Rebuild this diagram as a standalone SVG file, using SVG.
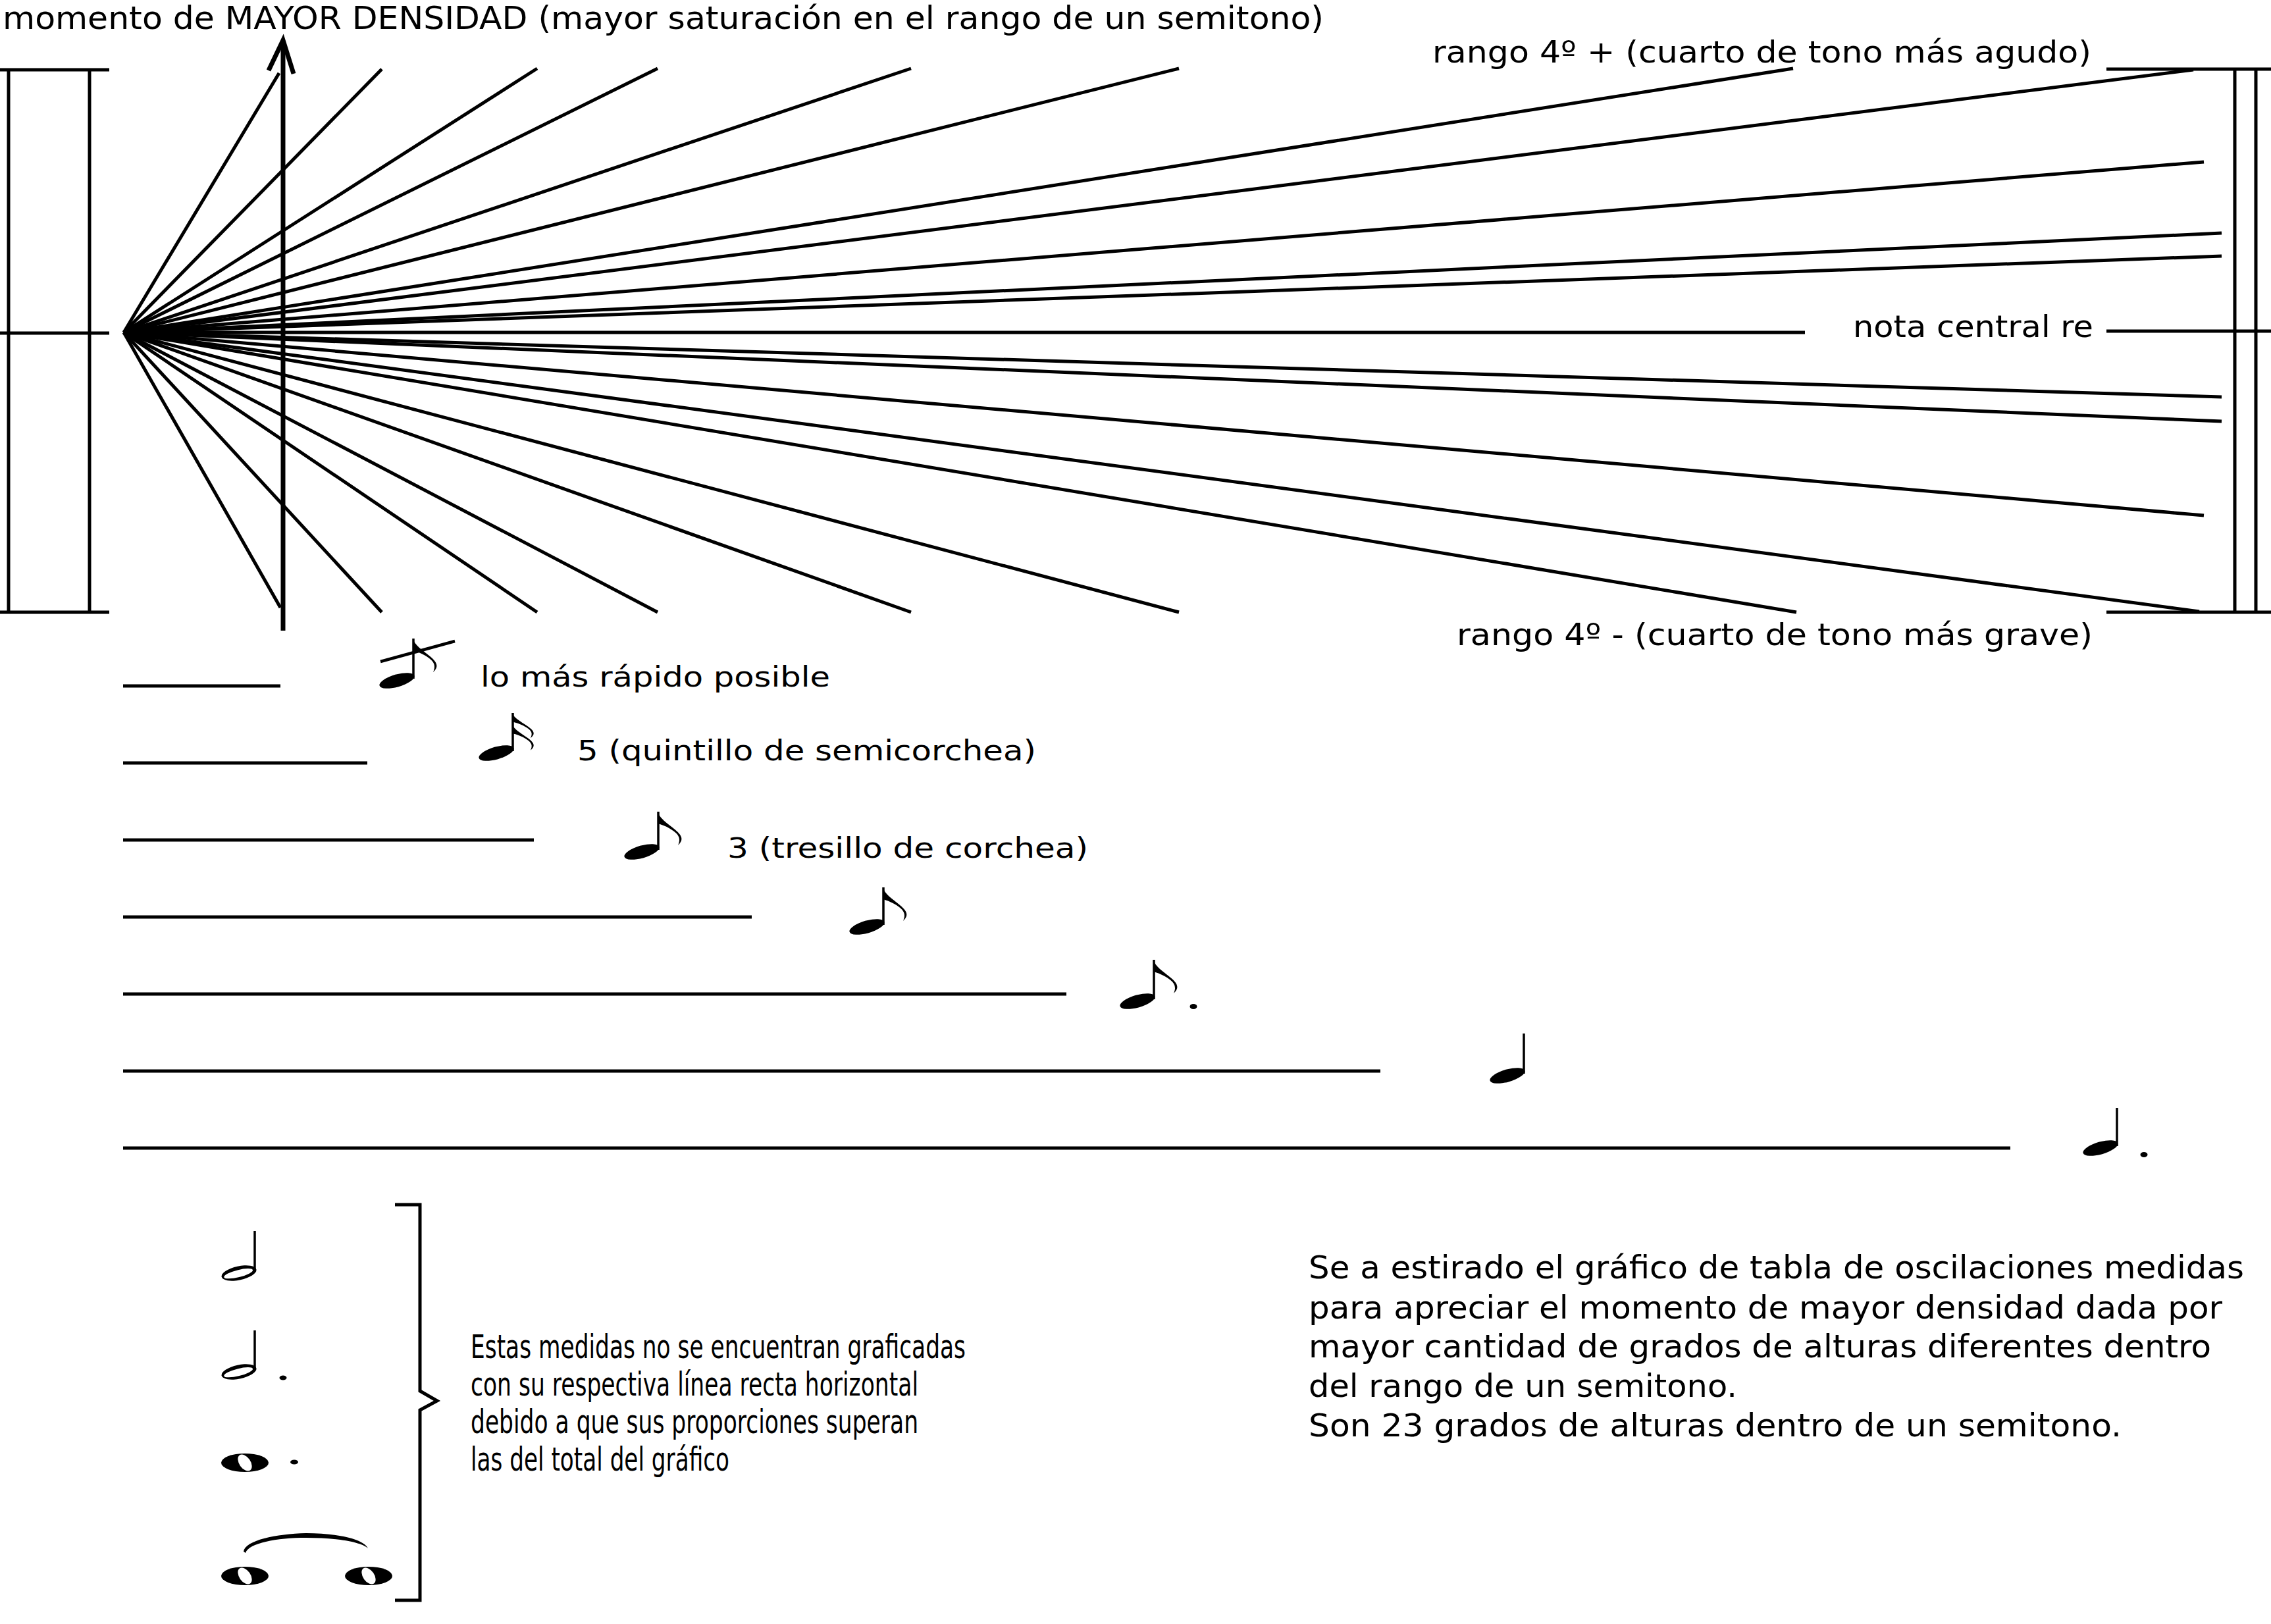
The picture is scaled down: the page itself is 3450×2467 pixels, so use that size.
<svg xmlns="http://www.w3.org/2000/svg" width="3450" height="2467" viewBox="0 0 3450 2467">
<style>
.ln{stroke:#000;stroke-width:5;fill:none}
.fan line{stroke:#000;stroke-width:5}
.dur line{stroke:#000;stroke-width:5}
.stem{stroke:#000;stroke-width:3.5}
.t{font-family:"DejaVu Sans",Verdana,sans-serif;fill:#000}
.ink{fill:#000}
</style>
<defs>
<ellipse id="head" cx="0" cy="0" rx="27.5" ry="9.5" transform="rotate(-16)"/>
<path id="flag" d="M0,0 C3,10 14,17 25,26 C36,35 41,42 31,51 C35,42 33,36 25,30 C16,23 7,20 0,18 Z"/>
<g id="hhead"><ellipse cx="0" cy="0" rx="27" ry="10.5" transform="rotate(-12)" fill="#000"/><ellipse cx="-1" cy="0.5" rx="22.5" ry="5.5" transform="rotate(-14)" fill="#fff"/></g>
<g id="whole"><ellipse cx="0" cy="0" rx="36" ry="14" fill="#000"/><ellipse cx="0" cy="0" rx="14" ry="8.5" transform="rotate(55)" fill="#fff"/></g>
</defs>
<rect width="3450" height="2467" fill="#fff"/>

<g id="left-frame">
<line class="ln" x1="0" y1="106" x2="166" y2="106"/>
<line class="ln" x1="0" y1="506" x2="166" y2="506"/>
<line class="ln" x1="0" y1="930" x2="166" y2="930"/>
<line class="ln" x1="13" y1="106" x2="13" y2="930"/>
<line class="ln" x1="136" y1="106" x2="136" y2="930"/>
</g>

<g id="right-frame">
<line class="ln" x1="3200" y1="105" x2="3450" y2="105"/>
<line class="ln" x1="3200" y1="503" x2="3450" y2="503"/>
<line class="ln" x1="3200" y1="930" x2="3450" y2="930"/>
<line class="ln" x1="3395" y1="105" x2="3395" y2="930"/>
<line class="ln" x1="3427" y1="105" x2="3427" y2="930"/>
</g>

<g id="connectors">
<g class="fan">
<line x1="188" y1="505" x2="424" y2="111"/>
<line x1="188" y1="505" x2="580" y2="105"/>
<line x1="188" y1="505" x2="816" y2="104"/>
<line x1="188" y1="505" x2="999" y2="104"/>
<line x1="188" y1="505" x2="1384" y2="104"/>
<line x1="188" y1="505" x2="1791" y2="104"/>
<line x1="188" y1="505" x2="2724" y2="104"/>
<line x1="188" y1="505" x2="3332" y2="106"/>
<line x1="188" y1="505" x2="3348" y2="246"/>
<line x1="188" y1="505" x2="3375" y2="354"/>
<line x1="188" y1="505" x2="3375" y2="389"/>
<line x1="188" y1="505" x2="2742" y2="505"/>
<line x1="188" y1="505" x2="3375" y2="603"/>
<line x1="188" y1="505" x2="3375" y2="640"/>
<line x1="188" y1="505" x2="3348" y2="783"/>
<line x1="188" y1="505" x2="3341" y2="929"/>
<line x1="188" y1="505" x2="2729" y2="930"/>
<line x1="188" y1="505" x2="1791" y2="930"/>
<line x1="188" y1="505" x2="1384" y2="930"/>
<line x1="188" y1="505" x2="999" y2="930"/>
<line x1="188" y1="505" x2="816" y2="930"/>
<line x1="188" y1="505" x2="580" y2="930"/>
<line x1="188" y1="505" x2="426" y2="923"/>
</g>
<g id="arrow">
<line x1="430" y1="958" x2="430" y2="64" stroke="#000" stroke-width="7"/>
<polyline points="408,107 430,61 446,112" fill="none" stroke="#000" stroke-width="7"/>
</g>
<g class="dur">
<line x1="187" y1="1042" x2="426" y2="1042"/>
<line x1="187" y1="1159" x2="558" y2="1159"/>
<line x1="187" y1="1276" x2="811" y2="1276"/>
<line x1="187" y1="1393" x2="1142" y2="1393"/>
<line x1="187" y1="1510" x2="1620" y2="1510"/>
<line x1="187" y1="1627" x2="2097" y2="1627"/>
<line x1="187" y1="1744" x2="3054" y2="1744"/>
</g>
</g>

<g id="labels-top">
<text class="t" x="4" y="44" font-size="48" textLength="2007" lengthAdjust="spacingAndGlyphs">momento de MAYOR DENSIDAD (mayor saturación en el rango de un semitono)</text>
<text class="t" x="2176" y="95" font-size="46" textLength="1001" lengthAdjust="spacingAndGlyphs">rango 4º + (cuarto de tono más agudo)</text>
<text class="t" x="2815" y="512" font-size="47" textLength="365" lengthAdjust="spacingAndGlyphs">nota central re</text>
<text class="t" x="2213" y="980" font-size="46" textLength="966" lengthAdjust="spacingAndGlyphs">rango 4º - (cuarto de tono más grave)</text>
</g>

<g id="note1">
<use href="#head" x="603" y="1034"/>
<line class="stem" x1="628" y1="1031" x2="628" y2="970"/>
<use href="#flag" x="627" y="970"/>
<line x1="578" y1="1005" x2="691" y2="974" stroke="#000" stroke-width="4.5"/>
<text class="t" x="730" y="1043" font-size="42" textLength="531" lengthAdjust="spacingAndGlyphs">lo más rápido posible</text>
</g>
<g id="note2">
<use href="#head" x="754" y="1144"/>
<line class="stem" x1="779" y1="1141" x2="779" y2="1083"/>
<use href="#flag" transform="translate(778,1083) scale(0.9,0.75)"/>
<use href="#flag" transform="translate(778,1100) scale(0.9,0.78)"/>
<text class="t" x="877" y="1155" font-size="42" textLength="697" lengthAdjust="spacingAndGlyphs">5 (quintillo de semicorchea)</text>
</g>
<g id="note3">
<use href="#head" x="975" y="1294"/>
<line class="stem" x1="1000" y1="1291" x2="1000" y2="1233"/>
<use href="#flag" x="999" y="1233"/>
<text class="t" x="1105" y="1303" font-size="42" textLength="548" lengthAdjust="spacingAndGlyphs">3 (tresillo de corchea)</text>
</g>
<g id="note4">
<use href="#head" x="1317" y="1408"/>
<line class="stem" x1="1342" y1="1405" x2="1342" y2="1348"/>
<use href="#flag" x="1341" y="1348"/>
</g>
<g id="note5">
<use href="#head" x="1728" y="1521"/>
<line class="stem" x1="1753" y1="1518" x2="1753" y2="1458"/>
<use href="#flag" x="1752" y="1458"/>
<ellipse cx="1813" cy="1529" rx="5.5" ry="4" class="ink"/>
</g>
<g id="note6">
<use href="#head" x="2290" y="1634"/>
<line class="stem" x1="2315" y1="1631" x2="2315" y2="1570"/>
</g>
<g id="note7">
<use href="#head" x="3191" y="1744"/>
<line class="stem" x1="3216" y1="1741" x2="3216" y2="1683"/>
<ellipse cx="3257" cy="1754" rx="5.5" ry="4" class="ink"/>
</g>

<g id="long-values">
<use href="#hhead" x="363" y="1934"/>
<line class="stem" x1="387" y1="1930" x2="387" y2="1870"/>
<use href="#hhead" x="363" y="2084"/>
<line class="stem" x1="387" y1="2080" x2="387" y2="2021"/>
<ellipse cx="430" cy="2093" rx="5.5" ry="3.5" class="ink"/>
<use href="#whole" x="372" y="2222"/>
<ellipse cx="447" cy="2221" rx="6" ry="3.5" class="ink"/>
<use href="#whole" x="372" y="2394"/>
<use href="#whole" x="560" y="2394"/>
<path class="ink" d="M370,2357 C372,2340 420,2330 465,2329 C510,2329 552,2337 559,2352 C548,2342 510,2336 465,2336 C420,2336 378,2344 373,2359 Z"/>
</g>

<g id="bracket">
<path class="ln" stroke-width="5" d="M600,1830 H638 V2113 L664,2128 L638,2142 V2431 H600"/>
<text class="t" font-size="50">
<tspan x="715" y="2063" textLength="752" lengthAdjust="spacingAndGlyphs">Estas medidas no se encuentran graficadas</tspan>
<tspan x="715" y="2120" textLength="680" lengthAdjust="spacingAndGlyphs">con su respectiva línea recta horizontal</tspan>
<tspan x="715" y="2177" textLength="680" lengthAdjust="spacingAndGlyphs">debido a que sus proporciones superan</tspan>
<tspan x="715" y="2234" textLength="393" lengthAdjust="spacingAndGlyphs">las del total del gráfico</tspan>
</text>
</g>

<g id="note-text">
<text class="t" font-size="48">
<tspan x="1988" y="1942" textLength="1421" lengthAdjust="spacingAndGlyphs">Se a estirado el gráfico de tabla de oscilaciones medidas</tspan>
<tspan x="1988" y="2003" textLength="1388" lengthAdjust="spacingAndGlyphs">para apreciar el momento de mayor densidad dada por</tspan>
<tspan x="1988" y="2062" textLength="1371" lengthAdjust="spacingAndGlyphs">mayor cantidad de grados de alturas diferentes dentro</tspan>
<tspan x="1988" y="2122" textLength="651" lengthAdjust="spacingAndGlyphs">del rango de un semitono.</tspan>
<tspan x="1988" y="2182" textLength="1235" lengthAdjust="spacingAndGlyphs">Son 23 grados de alturas dentro de un semitono.</tspan>
</text>
</g>
</svg>
